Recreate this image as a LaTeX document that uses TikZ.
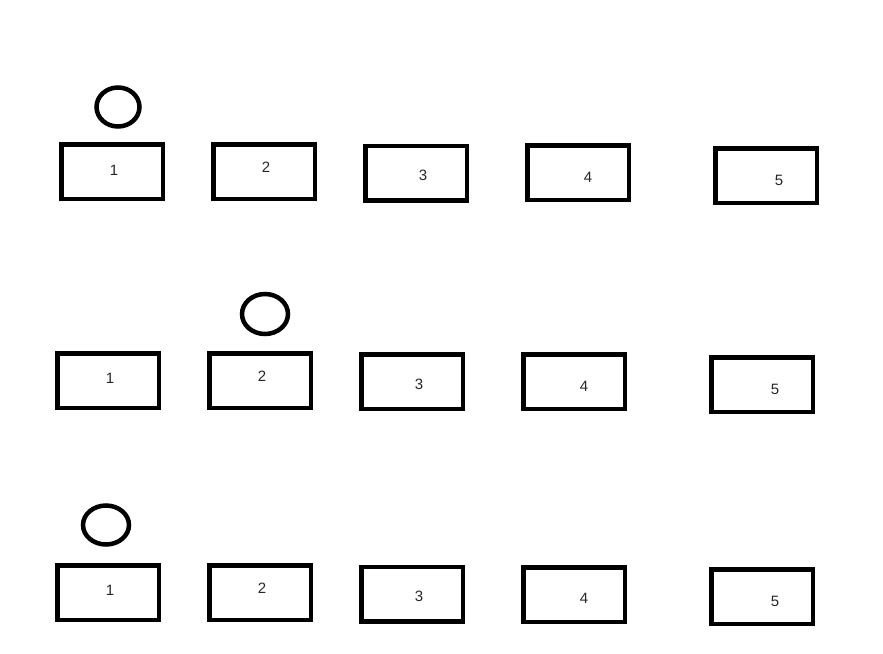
\documentclass[tikz,border=0pt]{standalone}
\usepackage{fontspec}
\setmainfont{Liberation Sans}
\usetikzlibrary{shapes.geometric}
\begin{document}
\begin{tikzpicture}[x=1pt,y=-1pt,
  box/.style={draw=black,line width=4.5pt,minimum width=101.5pt,minimum height=54.5pt,inner sep=0pt},
  lbl/.style={font=\fontsize{15}{15}\selectfont,inner sep=0pt,text=black!85},
  ring/.style={draw=black,line width=4.5pt,ellipse,inner sep=0pt}]
\useasboundingbox (0,0) rectangle (883,653);
% row 1
\node[ring,minimum width=43pt,minimum height=39pt] (c1) at (118,107) {};
\node[box] (a1) at (112,171.5) {}; \node[lbl] (ta1) at (114,170) {1};
\node[box] (a2) at (264,171.5) {}; \node[lbl] (ta2) at (266,167) {2};
\node[box] (a3) at (416,173) {};   \node[lbl] (ta3) at (423,175) {3};
\node[box] (a4) at (578,172.5) {}; \node[lbl] (ta4) at (588,177) {4};
\node[box] (a5) at (766,175.5) {}; \node[lbl] (ta5) at (779,180) {5};
% row 2
\node[ring,minimum width=46pt,minimum height=40pt] (c2) at (265,314) {};
\node[box] (b1) at (108,380.5) {}; \node[lbl] (tb1) at (110,378) {1};
\node[box] (b2) at (260,380.5) {}; \node[lbl] (tb2) at (262,376) {2};
\node[box] (b3) at (412,381.5) {}; \node[lbl] (tb3) at (419,384) {3};
\node[box] (b4) at (574,381.5) {}; \node[lbl] (tb4) at (584,386) {4};
\node[box] (b5) at (762,384.5) {}; \node[lbl] (tb5) at (775,389) {5};
% row 3
\node[ring,minimum width=46pt,minimum height=39pt] (c3) at (106,525) {};
\node[box] (d1) at (108,592.5) {}; \node[lbl] (td1) at (110,590) {1};
\node[box] (d2) at (260,592.5) {}; \node[lbl] (td2) at (262,588) {2};
\node[box] (d3) at (412,594) {};   \node[lbl] (td3) at (419,596) {3};
\node[box] (d4) at (574,594.5) {}; \node[lbl] (td4) at (584,598) {4};
\node[box] (d5) at (762,596.5) {}; \node[lbl] (td5) at (775,601) {5};
\end{tikzpicture}
\end{document}
